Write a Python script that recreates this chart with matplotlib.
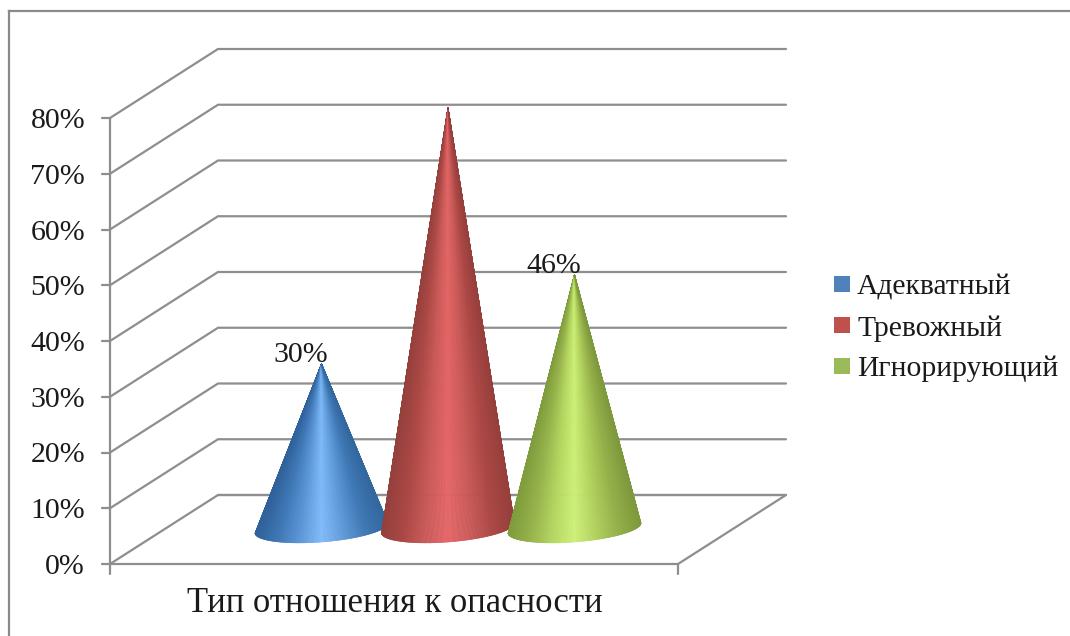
import numpy as np
import matplotlib
matplotlib.use("Agg")
import matplotlib.pyplot as plt
from matplotlib.collections import PolyCollection
from matplotlib.colors import LinearSegmentedColormap
from matplotlib.patches import Patch

# Chart content
series_names = ["Адекватный", "Тревожный", "Игнорирующий"]
series_values = [30, 76, 46]
series_colors = ["#4f81bd", "#c0504d", "#9bbb59"]
value_ticks = [0, 10, 20, 30, 40, 50, 60, 70, 80]
axis_title = "Тип отношения к опасности"

# Cone shading from the left silhouette, through the highlight, to the right one
shades = [
    ["#2f6099", "#3f77b5", "#5a95d6", "#80baf8", "#5e99d8", "#4079b6", "#33679e"],
    ["#94403d", "#ac4845", "#c95a58", "#e56566", "#c95a58", "#ac4846", "#963f3c"],
    ["#7f9c3c", "#96b34c", "#b4d660", "#cdf078", "#b0d05c", "#95b04a", "#7e993c"],
]

FONT = "Liberation Serif"
LINE = "#8e8e8e"
TEXT = "#1a1a1a"

# Pixel geometry of the 3D box
W, H = 1070, 636
AX_L, AX_R, AX_B, AX_T = 110, 678, 564, 118
PX_PER_PCT = (AX_B - AX_T) / 80
PX_PER_SLOT = 126.5
DEPTH_X, DEPTH_Y = 108, 69

fig = plt.figure(figsize=(W / 100, H / 100), dpi=100, facecolor="white")
ax = fig.add_axes([AX_L / W, 1 - AX_B / H, (AX_R - AX_L) / W, (AX_B - AX_T) / H])
half_span = (AX_R - AX_L) / 2 / PX_PER_SLOT
ax.set_xlim(1 - half_span, 1 + half_span)
ax.set_ylim(0, 80)
ax.axis("off")

dx = DEPTH_X / PX_PER_SLOT          # depth offset in slot units
dy = DEPTH_Y / PX_PER_PCT           # depth offset in percent units
x0, x1 = ax.get_xlim()
grid_style = dict(color=LINE, lw=1.6, clip_on=False, solid_capstyle="round", zorder=1)

# Walls: one bent line per gridline, floor outline, and the vertical axis
for v in value_ticks:
    ax.plot([x0, x0 + dx, x1 + dx], [v, v + dy, v + dy], **grid_style)
ax.plot([x0 + dx, x1 + dx, x1, x0], [dy, dy, 0, 0], **grid_style)
ax.plot([x0, x0], [0, 80], **grid_style)

# Axis ticks and percent labels
tick_w = 8 / PX_PER_SLOT
tick_h = 10 / PX_PER_PCT
for v in value_ticks:
    ax.annotate(f"{v}%", (x0, v), xytext=(-25, -3), textcoords="offset pixels",
                ha="right", va="center", family=FONT, fontsize=21.5, color=TEXT)
    ax.plot([x0 - tick_w, x0], [v, v], **grid_style)
for xt in (x0, x1):
    ax.plot([xt, xt], [0, -tick_h], **grid_style)

# Cones: fans of facets from the apex to the near half of a tilted base ellipse
RADIUS = 66.5 / PX_PER_SLOT
TILT = 5 / PX_PER_PCT
MINOR = 14 / PX_PER_PCT
BASE_Y = 36 / PX_PER_PCT
APEX_Y = 33 / PX_PER_PCT
t = np.linspace(np.pi, 2 * np.pi, 241)

for i, (value, stops) in enumerate(zip(series_values, shades)):
    cx = i + dx / 2
    apex = (cx, value + APEX_Y)
    arc_x = cx + RADIUS * np.cos(t)
    arc_y = BASE_Y + TILT * np.cos(t) + MINOR * np.sin(t)
    facets = [[apex, (arc_x[k], arc_y[k]), (arc_x[k + 1], arc_y[k + 1])]
              for k in range(len(t) - 1)]
    cmap = LinearSegmentedColormap.from_list(f"cone{i}", stops)
    u = (np.cos(t[:-1]) + 1) / 2
    colors = cmap(u)
    ax.add_collection(PolyCollection(facets, facecolors=colors, edgecolors=colors,
                                     linewidths=0.4, clip_on=False, zorder=3 + i))
    ax.annotate(f"{value}%", apex, xytext=(-21, 2), textcoords="offset pixels",
                ha="center", va="baseline", family=FONT, fontsize=21.5,
                color=TEXT, zorder=10)

# Category axis title
fig.text(395 / W, 1 - 603 / H, axis_title, ha="center", va="center",
         family=FONT, fontsize=24.9, color=TEXT)

# Legend
handles = [Patch(facecolor=c, edgecolor="none") for c in series_colors]
fig.legend(handles, series_names, loc="center left",
           bbox_to_anchor=(834 / W, 1 - 328.5 / H), frameon=False,
           prop={"family": FONT, "size": 21.3}, labelcolor=TEXT,
           borderpad=0, borderaxespad=0, handlelength=0.54, handleheight=0.42,
           handletextpad=0.24, labelspacing=0.49)

# Outer chart frame, open at the right and the bottom
for seg in ([(9, 636), (9, 11)], [(9, 11), (1070, 11)]):
    xs, ys = zip(*seg)
    fig.add_artist(plt.Line2D(np.array(xs) / W, 1 - np.array(ys) / H,
                              color="#8a8a8a", lw=1.6, transform=fig.transFigure))

fig.savefig("out.png", dpi=100, facecolor="white")
